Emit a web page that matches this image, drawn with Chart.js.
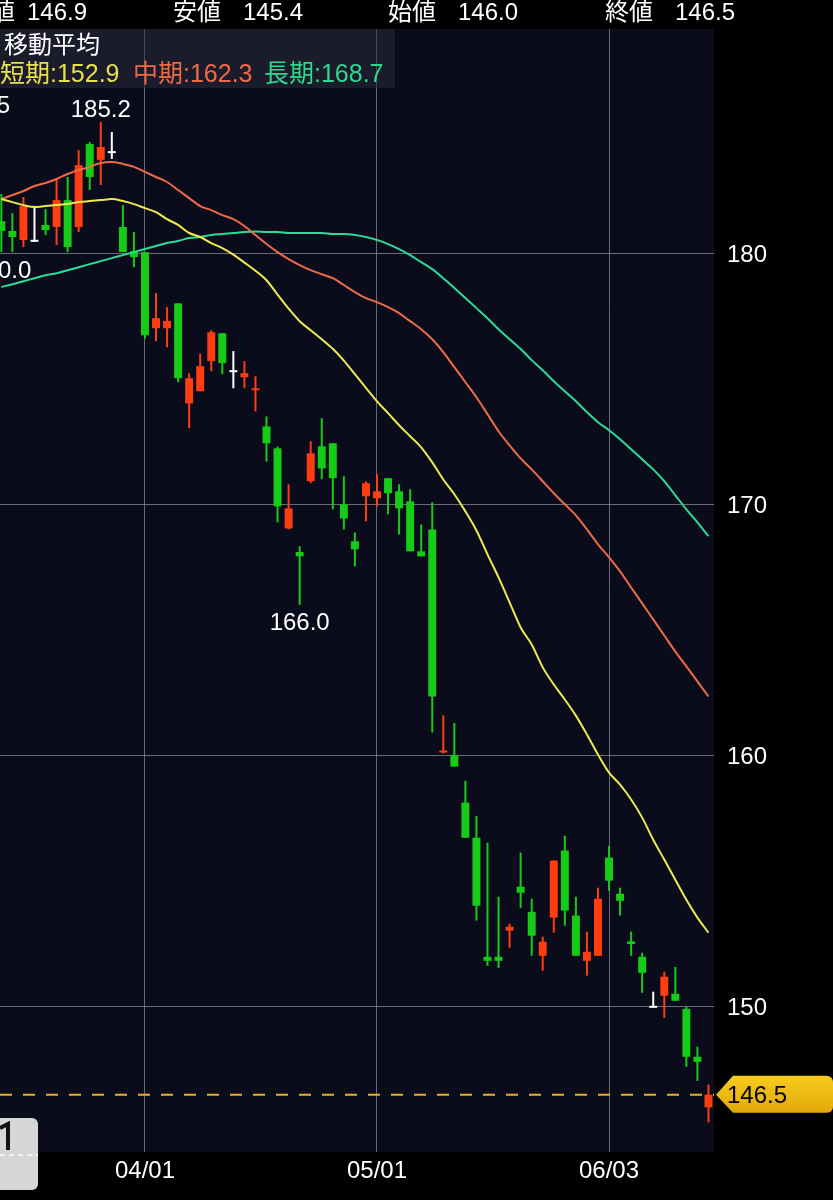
<!DOCTYPE html>
<html>
<head>
<meta charset="utf-8">
<script src="https://cdn.jsdelivr.net/npm/chart.js@4.4.1/dist/chart.umd.min.js"></script>
<style>
  html, body { margin: 0; padding: 0; background: #000; }
  #wrap { width: 833px; height: 1200px; }
</style>
</head>
<body>
<div id="wrap"><canvas id="chart" width="833" height="1200"></canvas></div>
<script>
// trading days shown (2024)
var dates = ['03/12','03/13','03/14','03/15','03/18','03/19','03/21','03/22','03/25','03/26','03/27','03/28','03/29',
  '04/01','04/02','04/03','04/04','04/05','04/08','04/09','04/10','04/11','04/12','04/15','04/16','04/17','04/18','04/19',
  '04/22','04/23','04/24','04/25','04/26','04/30',
  '05/01','05/02','05/07','05/08','05/09','05/10','05/13','05/14','05/15','05/16','05/17','05/20','05/21','05/22','05/23','05/24',
  '05/27','05/28','05/29','05/30','05/31',
  '06/03','06/04','06/05','06/06','06/07','06/10','06/11','06/12','06/13','06/14'];

var opens  = [181.27,180.88,180.52,180.45,181.12,181.04,182.11,181.04,184.34,183.71,183.98,181.04,180.08,
  180.04,177.01,177.01,178.00,174.02,174.50,175.70,176.81,175.26,175.06,174.54,173.10,172.23,169.04,168.10,
  170.92,172.31,172.43,170.00,168.53,170.32,
  170.24,171.04,170.52,170.12,168.13,169.00,160.12,160.00,158.13,156.73,151.99,151.99,153.03,154.78,153.78,152.03,
  153.55,156.22,153.63,151.83,152.03,
  155.94,154.50,152.60,151.99,149.96,150.44,150.52,149.92,148.01,146.00];
var highs  = [182.35,181.59,182.23,181.88,181.75,182.91,183.03,184.10,184.42,185.22,184.82,181.91,180.84,
  180.04,178.41,177.85,178.00,175.22,176.00,176.93,176.81,176.10,175.70,175.10,173.50,172.30,170.80,168.33,
  172.51,173.43,172.43,171.12,168.88,170.92,
  171.20,171.04,170.80,170.60,169.20,170.08,161.60,161.30,159.00,157.60,156.53,154.38,153.31,156.14,154.30,152.79,
  155.82,156.81,154.38,152.99,154.74,
  156.41,154.74,152.99,152.15,150.60,151.40,151.59,150.00,148.41,146.90];
var lows   = [180.04,180.04,180.24,180.45,180.72,180.32,180.04,180.84,182.51,182.71,183.75,180.04,179.44,
  176.60,176.49,176.25,174.86,173.03,174.50,175.30,175.18,174.62,174.62,173.70,171.70,169.28,169.00,166.00,
  170.84,171.00,169.80,169.00,167.53,169.32,
  169.92,169.60,168.80,168.13,167.93,160.92,160.08,159.56,156.73,153.43,151.63,151.55,152.35,153.94,152.03,151.43,
  152.95,153.23,152.03,151.24,152.03,
  154.62,153.63,152.03,150.56,149.96,149.56,150.24,147.61,147.05,145.40];
var closes = [180.88,180.64,181.87,180.45,180.92,182.11,180.24,183.50,183.03,184.22,183.98,180.04,179.84,
  176.73,177.41,177.30,175.02,175.02,175.50,176.85,175.62,175.26,175.22,174.62,172.43,169.92,169.84,167.93,
  172.03,171.43,171.04,169.44,168.21,170.84,
  170.52,170.44,169.84,168.13,167.93,162.35,160.20,159.56,156.73,154.02,151.83,151.83,153.19,154.54,152.83,152.59,
  155.82,153.83,152.03,152.19,154.30,
  155.02,154.22,152.50,151.35,149.96,151.20,150.24,148.01,147.81,146.50];

// moving averages (short / mid / long)
var maShort = [182.15,182.03,181.91,181.83,181.87,181.91,181.95,182.03,182.07,182.11,182.15,182.07,181.95,
  181.79,181.63,181.35,181.12,180.80,180.64,180.40,180.20,179.94,179.62,179.30,178.92,178.35,177.79,177.29,
  176.93,176.57,176.19,175.72,175.18,174.64,
  174.10,173.63,173.15,172.71,172.27,171.67,170.99,170.40,169.72,168.96,168.01,167.09,166.10,165.10,164.42,163.51,
  162.83,162.23,161.59,160.84,160.04,
  159.32,158.84,158.25,157.53,156.65,155.86,155.06,154.26,153.55,152.95];
var maMid = [182.15,182.31,182.47,182.67,182.79,182.95,183.15,183.31,183.43,183.59,183.63,183.55,183.43,
  183.23,183.03,182.83,182.51,182.19,181.87,181.71,181.51,181.35,181.08,180.72,180.36,180.04,179.76,179.52,
  179.32,179.16,179.00,178.73,178.45,178.21,
  178.05,177.85,177.61,177.29,176.97,176.57,176.06,175.46,174.86,174.26,173.59,172.91,172.35,171.83,171.39,170.92,
  170.44,170.00,169.56,169.00,168.41,
  167.89,167.33,166.69,166.06,165.42,164.78,164.14,163.55,162.95,162.35];
var maLong = [178.65,178.76,178.88,179.00,179.12,179.20,179.32,179.44,179.56,179.68,179.80,179.92,180.04,
  180.16,180.28,180.40,180.48,180.60,180.64,180.72,180.76,180.80,180.84,180.86,180.84,180.84,180.80,180.80,
  180.80,180.80,180.76,180.76,180.72,180.64,
  180.52,180.36,180.16,179.92,179.64,179.36,179.00,178.61,178.21,177.81,177.41,176.97,176.57,176.18,175.74,175.34,
  174.90,174.50,174.10,173.67,173.27,
  172.95,172.59,172.19,171.79,171.39,170.92,170.36,169.80,169.28,168.73];

var yTicks = [150, 160, 170, 180];
var xTickDates = ['04/01', '05/01', '06/03'];
var highMarks = [9];   // candles labelled with their high
var lowMarks = [0, 27]; // candles labelled with their low

var FONT = "'Liberation Sans', 'Noto Sans CJK JP', sans-serif";
var RED = '#ff3d12', GREEN = '#17cc17', WHITE = '#ffffff';
var GRID = 'rgba(140,140,150,0.75)';

function candleColor(i) {
    if (closes[i] > opens[i]) return RED;
    if (closes[i] < opens[i]) return GREEN;
    return WHITE;
}

var bodies = dates.map(function(d, i) { return {x: i, y: [opens[i], closes[i]]}; });
var wicks = dates.map(function(d, i) { return {x: i, y: [lows[i], highs[i]]}; });
function line(arr) { return arr.map(function(v, i) { return {x: i, y: v}; }); }

var decor = {
    id: 'decor',
    beforeDraw: function(chart) {
        var ctx = chart.ctx, a = chart.chartArea;
        ctx.save();
        ctx.fillStyle = '#000';
        ctx.fillRect(0, 0, chart.width, chart.height);
        ctx.fillStyle = '#0a0b1b';
        ctx.fillRect(a.left, a.top, a.right - a.left, a.bottom - a.top);
        ctx.restore();
    },
    afterDatasetsDraw: function(chart) {
        var ctx = chart.ctx, a = chart.chartArea;
        var xs = chart.scales.x, ys = chart.scales.y;
        var last = closes.length - 1;
        ctx.save();

        // current price dashed line
        var py = ys.getPixelForValue(closes[last]);
        ctx.strokeStyle = '#e6b22a';
        ctx.lineWidth = 2;
        ctx.setLineDash([12, 11]);
        ctx.beginPath();
        ctx.moveTo(a.left, py);
        ctx.lineTo(a.right, py);
        ctx.stroke();
        ctx.setLineDash([]);

        // high / low markers
        ctx.fillStyle = '#fff';
        ctx.font = '24px ' + FONT;
        ctx.textAlign = 'center';
        ctx.textBaseline = 'middle';
        highMarks.forEach(function(i) {
            ctx.fillText(highs[i].toFixed(1), xs.getPixelForValue(i), ys.getPixelForValue(highs[i]) - 12);
        });
        lowMarks.forEach(function(i) {
            ctx.fillText(lows[i].toFixed(1), xs.getPixelForValue(i), ys.getPixelForValue(lows[i]) + 19);
        });
        ctx.fillText('185.5', -20, 106);

        // moving average legend box
        ctx.fillStyle = 'rgba(40,42,56,0.55)';
        ctx.fillRect(0, a.top, 395, 59);
        ctx.textAlign = 'left';
        ctx.font = '24px ' + FONT;
        ctx.fillStyle = '#fff';
        ctx.fillText('移動平均', 4, 46);
        ctx.font = '25px ' + FONT;
        ctx.fillStyle = '#e8e048';
        ctx.fillText('短期:' + maShort[last].toFixed(1), 0, 75);
        ctx.fillStyle = '#ef6a45';
        ctx.fillText('中期:' + maMid[last].toFixed(1), 133, 75);
        ctx.fillStyle = '#2ed88e';
        ctx.fillText('長期:' + maLong[last].toFixed(1), 264, 75);

        // header row
        var head = [['高値', highs[last], -33, 27], ['安値', lows[last], 173, 243],
                    ['始値', opens[last], 388, 458], ['終値', closes[last], 605, 675]];
        ctx.font = '24px ' + FONT;
        ctx.fillStyle = '#fff';
        head.forEach(function(h) {
            ctx.fillText(h[0], h[2], 13);
            ctx.fillText(h[1].toFixed(1), h[3], 13);
        });

        // price tag on the right
        ctx.beginPath();
        ctx.moveTo(716, py);
        ctx.lineTo(733, py - 19);
        ctx.lineTo(826, py - 19);
        ctx.quadraticCurveTo(833, py - 19, 833, py - 12);
        ctx.lineTo(833, py + 12);
        ctx.quadraticCurveTo(833, py + 18, 826, py + 18);
        ctx.lineTo(733, py + 18);
        ctx.closePath();
        var g = ctx.createLinearGradient(0, py - 19, 0, py + 18);
        g.addColorStop(0, '#f7cc1e');
        g.addColorStop(1, '#e3a80a');
        ctx.fillStyle = g;
        ctx.fill();
        ctx.fillStyle = '#000';
        ctx.font = '24px ' + FONT;
        ctx.fillText(closes[last].toFixed(1), 727, py + 2);

        // small tab at bottom-left
        ctx.beginPath();
        ctx.roundRect(-8, 1118, 46, 72, 6);
        ctx.fillStyle = '#d6d6d6';
        ctx.fill();
        ctx.strokeStyle = '#111';
        ctx.lineWidth = 4;
        ctx.beginPath();
        ctx.moveTo(0, 1128);
        ctx.lineTo(8, 1124);
        ctx.lineTo(8, 1150);
        ctx.stroke();
        ctx.strokeStyle = '#fff';
        ctx.lineWidth = 1.5;
        ctx.setLineDash([5, 4]);
        ctx.beginPath();
        ctx.moveTo(0, 1155);
        ctx.lineTo(38, 1155);
        ctx.stroke();
        ctx.restore();
    }
};

var ctx = document.getElementById('chart').getContext('2d');
var myChart = new Chart(ctx, {
    type: 'bar',
    data: {
        datasets: [{
            type: 'line',
            label: '短期',
            data: line(maShort),
            borderColor: '#ecea4c',
            borderWidth: 2,
            pointRadius: 0,
            cubicInterpolationMode: 'monotone',
            order: 1
        }, {
            type: 'line',
            label: '中期',
            data: line(maMid),
            borderColor: '#ee6a48',
            borderWidth: 2,
            pointRadius: 0,
            cubicInterpolationMode: 'monotone',
            order: 1
        }, {
            type: 'line',
            label: '長期',
            data: line(maLong),
            borderColor: '#2bdc98',
            borderWidth: 2,
            pointRadius: 0,
            cubicInterpolationMode: 'monotone',
            order: 1
        }, {
            label: 'body',
            data: bodies,
            grouped: false,
            maxBarThickness: 9,
            barPercentage: 0.9,
            minBarLength: 2,
            borderWidth: 0,
            backgroundColor: function(c) { return candleColor(c.dataIndex); },
            order: 2
        }, {
            label: 'wick',
            data: wicks,
            grouped: false,
            maxBarThickness: 2,
            barPercentage: 0.9,
            borderWidth: 0,
            backgroundColor: function(c) { return candleColor(c.dataIndex); },
            order: 3
        }]
    },
    options: {
        responsive: false,
        animation: false,
        layout: { padding: { top: 29, left: 0, right: 0, bottom: 0 } },
        plugins: {
            legend: { display: false },
            tooltip: { enabled: false }
        },
        scales: {
            x: {
                type: 'linear',
                position: 'bottom',
                min: -0.12,
                max: 64.5,
                offset: false,
                grid: { color: GRID, drawTicks: false, offset: false },
                border: { display: false },
                ticks: {
                    color: '#fff',
                    font: { size: 24, family: FONT },
                    padding: 5,
                    autoSkip: false,
                    maxRotation: 0,
                    callback: function(v) { return dates[v]; }
                },
                afterBuildTicks: function(s) {
                    s.ticks = xTickDates.map(function(d) { return {value: dates.indexOf(d)}; });
                },
                afterFit: function(s) { s.height = 48; }
            },
            y: {
                position: 'right',
                min: 144.22,
                max: 188.92,
                grid: { color: GRID, drawTicks: false },
                border: { display: false },
                ticks: {
                    color: '#fff',
                    font: { size: 24, family: FONT },
                    padding: 13,
                    labelOffset: 2
                },
                afterBuildTicks: function(s) {
                    s.ticks = yTicks.map(function(v) { return {value: v}; });
                },
                afterFit: function(s) { s.width = 119; }
            }
        }
    },
    plugins: [decor]
});
</script>
</body>
</html>
